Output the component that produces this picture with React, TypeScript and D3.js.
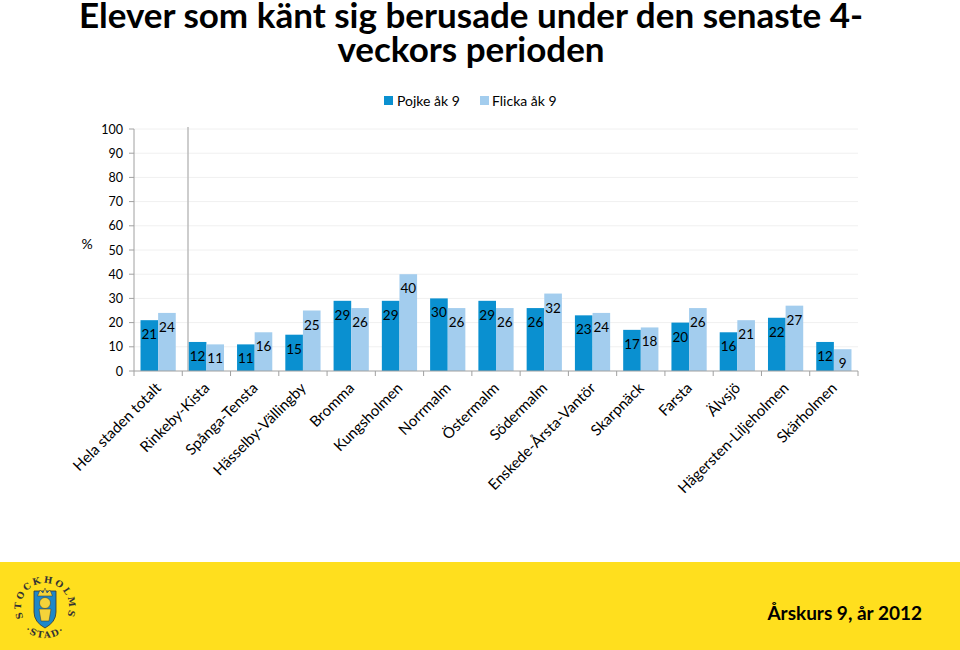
import React from "react";
import * as d3 from "d3";

const categories = [
  "Hela staden totalt",
  "Rinkeby-Kista",
  "Spånga-Tensta",
  "Hässelby-Vällingby",
  "Bromma",
  "Kungsholmen",
  "Norrmalm",
  "Östermalm",
  "Södermalm",
  "Enskede-Årsta-Vantör",
  "Skarpnäck",
  "Farsta",
  "Älvsjö",
  "Hägersten-Liljeholmen",
  "Skärholmen",
];
const pojke = [21, 12, 11, 15, 29, 29, 30, 29, 26, 23, 17, 20, 16, 22, 12];
const flicka = [24, 11, 16, 25, 26, 40, 26, 26, 32, 24, 18, 26, 21, 27, 9];
const seriesNames = ["Pojke åk 9", "Flicka åk 9"];
const yTicks = [0, 10, 20, 30, 40, 50, 60, 70, 80, 90, 100];

const W = 960;
const H = 650;
const left = 134;
const right = 858;
const top = 129;
const bottom = 371;
const DARK = "#0A90D0";
const LIGHT = "#A3CDEE";
const FONT = "Lato, 'Open Sans', sans-serif";

function pt(cx: number, cy: number, r: number, deg: number) {
  const a = (deg * Math.PI) / 180;
  return [cx + r * Math.sin(a), cy - r * Math.cos(a)];
}

export default function App() {
  const x = d3
    .scaleBand<string>()
    .domain(categories)
    .range([left, right])
    .paddingInner(0.27)
    .paddingOuter(0.135);
  const sub = d3.scaleBand<string>().domain(seriesNames).range([0, x.bandwidth()]).padding(0);
  const y = d3.scaleLinear().domain([0, 100]).range([bottom, top]);
  const step = x.step();
  const boundaries = d3.range(categories.length + 1).map((i) => left + i * step);
  const series = [
    { name: seriesNames[0], values: pojke, color: DARK },
    { name: seriesNames[1], values: flicka, color: LIGHT },
  ];

  const lcx = 45;
  const lcy = 607;
  const [ts, tsy] = pt(lcx, lcy, 24, -125);
  const [te, tey] = pt(lcx, lcy, 24, 125);
  const [bs, bsy] = pt(lcx, lcy, 31, -135);
  const [be, bey] = pt(lcx, lcy, 31, 135);

  return (
    <svg width={W} height={H} style={{ position: "absolute", left: 0, top: 0, background: "#fff" }}>
      <text x={471} y={28} textAnchor="middle" fontFamily={FONT} fontWeight="bold" fontSize={35} fill="#000">
        Elever som känt sig berusade under den senaste 4-
      </text>
      <text x={471} y={62} textAnchor="middle" fontFamily={FONT} fontWeight="bold" fontSize={35} fill="#000">
        veckors perioden
      </text>

      {/* legend */}
      <rect x={384} y={96} width={9} height={9} fill={DARK} />
      <text x={397} y={106} fontFamily={FONT} fontSize={14} fill="#000">{seriesNames[0]}</text>
      <rect x={480} y={96} width={9} height={9} fill={LIGHT} />
      <text x={492} y={106} fontFamily={FONT} fontSize={14} fill="#000">{seriesNames[1]}</text>

      {/* gridlines */}
      {yTicks.slice(1).map((t) => (
        <line key={t} x1={left} x2={right} y1={y(t)} y2={y(t)} stroke="#F0F0F0" strokeWidth={1} />
      ))}

      {/* y axis */}
      <line x1={left} x2={left} y1={top} y2={bottom} stroke="#A0A0A0" />
      {yTicks.map((t) => (
        <g key={t}>
          <line x1={left - 5} x2={left} y1={y(t)} y2={y(t)} stroke="#A0A0A0" />
          <text x={123} y={y(t) + 4.5} textAnchor="end" fontFamily={FONT} fontSize={12.5} fill="#000">
            {t}
          </text>
        </g>
      ))}
      <text x={87} y={249} textAnchor="middle" fontFamily={FONT} fontSize={14} fill="#000">%</text>

      {/* separator */}
      <line x1={188} x2={188} y1={top - 2} y2={bottom} stroke="#BDBDBD" strokeWidth={1.5} />

      {/* bars */}
      {series.map((s) =>
        s.values.map((v, i) => {
          const bx = (x(categories[i]) as number) + (sub(s.name) as number);
          const bw = sub.bandwidth();
          return (
            <g key={s.name + i}>
              <rect x={bx} y={y(v)} width={bw} height={y(0) - y(v)} fill={s.color} />
              <text
                x={bx + bw / 2}
                y={y(v) + 19}
                textAnchor="middle"
                fontFamily={FONT}
                fontSize={13.5}
                fill="#000"
              >
                {v}
              </text>
            </g>
          );
        })
      )}

      {/* x axis */}
      <line x1={left} x2={right} y1={bottom} y2={bottom} stroke="#A0A0A0" />
      {boundaries.map((bx, i) => (
        <line key={i} x1={bx} x2={bx} y1={bottom} y2={bottom + 5} stroke="#A0A0A0" />
      ))}
      {categories.map((c) => {
        const cx = (x(c) as number) + x.bandwidth() / 2 + 4;
        const cy = bottom + 18;
        return (
          <text
            key={c}
            transform={`translate(${cx},${cy}) rotate(-45)`}
            textAnchor="end"
            fontFamily={FONT}
            fontSize={15}
            fill="#000"
          >
            {c}
          </text>
        );
      })}

      {/* footer */}
      <rect x={0} y={562} width={W} height={88} fill="#FFDF1E" />
      <defs>
        <path id="logoTop" d={`M ${ts} ${tsy} A 24 24 0 1 1 ${te} ${tey}`} />
        <path id="logoBottom" d={`M ${bs} ${bsy} A 31 31 0 0 0 ${be} ${bey}`} />
      </defs>
      <g>
        <path
          d="M 34 591 L 56 591 L 56 612 Q 56 622 45 628 Q 34 622 34 612 Z"
          fill="#1E88C8"
          stroke="#333"
          strokeWidth={0.8}
        />
        <path d="M 37.5 596 L 40 590 L 43 593 L 45 588 L 47 593 L 50 590 L 52.5 596 Z" fill="#F4D33A" stroke="#333" strokeWidth={0.5} />
        <circle cx={45} cy={603} r={5.5} fill="#F4D33A" stroke="#333" strokeWidth={0.5} />
        <path d="M 39 609 L 51 609 L 49 621 L 41 621 Z" fill="#F4D33A" stroke="#333" strokeWidth={0.5} />
        <text fontFamily="'DejaVu Serif', serif" fontWeight="bold" fontSize={9} fill="#333" letterSpacing={2.2}>
          <textPath href="#logoTop" startOffset="50%" textAnchor="middle">
            STOCKHOLMS
          </textPath>
        </text>
        <text fontFamily="'DejaVu Serif', serif" fontWeight="bold" fontSize={9} fill="#333" letterSpacing={1.5}>
          <textPath href="#logoBottom" startOffset="50%" textAnchor="middle">
            ·STAD·
          </textPath>
        </text>
      </g>
      <text x={922} y={620} textAnchor="end" fontFamily={FONT} fontWeight="bold" fontSize={19} fill="#000">
        Årskurs 9, år 2012
      </text>
    </svg>
  );
}
